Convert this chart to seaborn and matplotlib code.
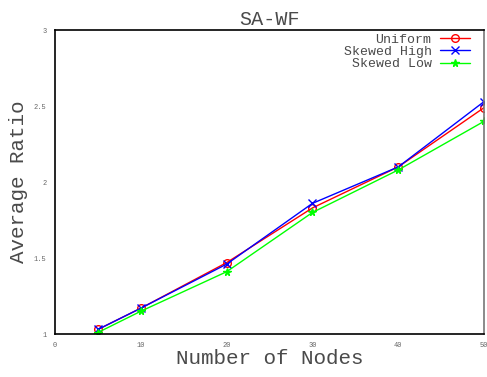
import matplotlib
matplotlib.use("Agg")
import matplotlib.pyplot as plt
import seaborn as sns
import pandas as pd

nodes = [5, 10, 20, 30, 40, 50]
uniform = [1.03, 1.17, 1.47, 1.83, 2.10, 2.49]
skewed_high = [1.03, 1.17, 1.46, 1.86, 2.10, 2.53]
skewed_low = [1.01, 1.15, 1.41, 1.80, 2.08, 2.40]
series_names = ["Uniform", "Skewed High", "Skewed Low"]
x_ticks = [0, 10, 20, 30, 40, 50]
y_ticks = [1, 1.5, 2, 2.5, 3]
y_tick_labels = ["1", "1.5", "2", "2.5", "3"]

sns.set_style("white")
plt.rcParams['font.family'] = ['Liberation Mono', 'DejaVu Sans Mono']

df = pd.DataFrame({
    "Nodes": nodes * 3,
    "Ratio": uniform + skewed_high + skewed_low,
    "Series": [series_names[0]] * 6 + [series_names[1]] * 6 + [series_names[2]] * 6,
})

fig = plt.figure(figsize=(4.87, 3.77), dpi=100)
ax = fig.add_axes([0.113, 0.114, 0.881, 0.806])

colors = {"Uniform": "#ff0000", "Skewed High": "#0000ff", "Skewed Low": "#00ff00"}
markers = {"Uniform": "o", "Skewed High": "x", "Skewed Low": "*"}
for name in series_names:
    sub = df[df["Series"] == name]
    mk = markers[name]
    kw = dict(markerfacecolor="none") if mk == "o" else {}
    sns.lineplot(data=sub, x="Nodes", y="Ratio", ax=ax, color=colors[name],
                 marker=mk, markersize=5.5, markeredgecolor=colors[name],
                 markeredgewidth=1, linewidth=1, label=name, **kw)

ax.set_xlim(0, 50)
ax.set_ylim(1, 3)
ax.set_xticks(x_ticks)
ax.set_xticklabels([str(t) for t in x_ticks])
ax.set_yticks(y_ticks)
ax.set_yticklabels(y_tick_labels)
ax.tick_params(axis="both", direction="in", length=4, width=1, labelsize=5,
               labelcolor="#666666", color="black", pad=6)
for s in ax.spines.values():
    s.set_color("black")
    s.set_linewidth(1.2)
ax.spines["right"].set_color("#777777")

txt_color = "#4a4a4a"
ax.set_title("SA-WF", fontsize=14.5, pad=4, color=txt_color)
ax.set_xlabel("Number of Nodes", fontsize=15, color=txt_color)
ax.set_ylabel("Average Ratio", fontsize=15, color=txt_color)
ax.xaxis.set_label_coords(0.5, -0.05)
ax.yaxis.set_label_coords(-0.064, 0.5)

leg = ax.legend(loc="upper right", frameon=False, markerfirst=False, fontsize=9.5,
                handlelength=2.3, bbox_to_anchor=(0.97, 0.993), borderaxespad=0.0,
                borderpad=0.1, labelspacing=0.0, handletextpad=0.6)
for t in leg.get_texts():
    t.set_ha("right")
    t.set_color(txt_color)
leg._legend_box.align = "right"

fig.savefig("out.png", dpi=100)
